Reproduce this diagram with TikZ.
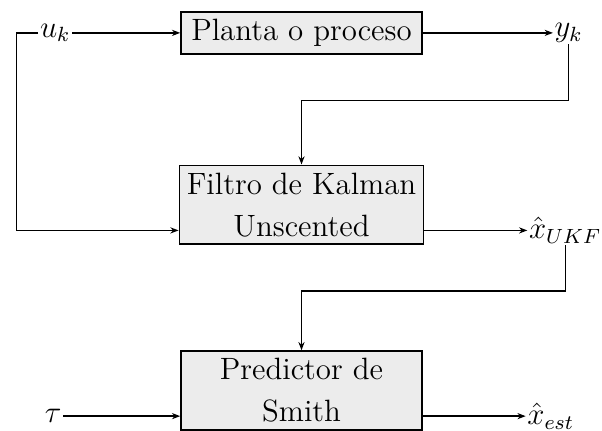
\documentclass[tikz,border=0pt]{standalone}
\usepackage{amsmath, amssymb}
\usepackage{tikz}
\usetikzlibrary{arrows.meta, positioning, calc}

\begin{document}
\begin{tikzpicture}[font=\large,
    block/.style={draw, line width=0.6pt, fill=gray!15, minimum width=93.8pt, inner sep=2.9pt, align=center},
    sig/.style={inner sep=0.5pt},
    flow/.style={-{Stealth[length=3.2pt, width=2.4pt]}, line width=0.5pt}]

\useasboundingbox (-117.3pt,-154.6pt) rectangle (116.9pt,12.8pt);

% Plant at top
\node[block] (planta) at (0,0) {Planta o proceso};

% UKF block below the plant
\node[block, below=15mm of planta] (ukf) {Filtro de Kalman\\[2.3pt]Unscented};

% Smith predictor at the bottom
\node[block, below=14.4mm of ukf] (smith) {Predictor de\\[2.3pt]Smith};

% Input points on the second text line of the blocks
\coordinate (ukf-in) at ([yshift=-10pt]ukf.west);
\coordinate (ukf-out) at ([yshift=-10pt]ukf.east);
\coordinate (smith-in) at ([yshift=-10pt]smith.west);
\coordinate (smith-out) at ([yshift=-10pt]smith.east);

% Signals
\node[sig, left=42pt of planta] (uk) {$u_k$};
\node[sig, right=50.6pt of planta] (yk) {$y_k$};
\node[sig, right=40pt of ukf-out] (xukf) {$\hat{x}_{UKF}$};
\node[sig, left=45.5pt of smith-in] (tau) {$\tau$};
\node[sig, right=40pt of smith-out] (xest) {$\hat{x}_{est}$};
\coordinate[left=8.5pt of uk] (uk-corner);

% Forward path
\draw[flow] (uk) -- (planta);
\draw[flow] (planta) -- (yk);
\draw[flow] (uk.west) -- (uk-corner) |- (ukf-in);
\draw[flow] (ukf-out) -- (xukf);
\draw[flow] (tau) -- (smith-in);
\draw[flow] (smith-out) -- (xest);

% Measurements and estimate fed downwards
\draw[flow] (yk.south) |- ([yshift=25pt]ukf.north) -- (ukf.north);
\draw[flow] (xukf.south) |- ([yshift=23pt]smith.north) -- (smith.north);

\end{tikzpicture}
\end{document}
